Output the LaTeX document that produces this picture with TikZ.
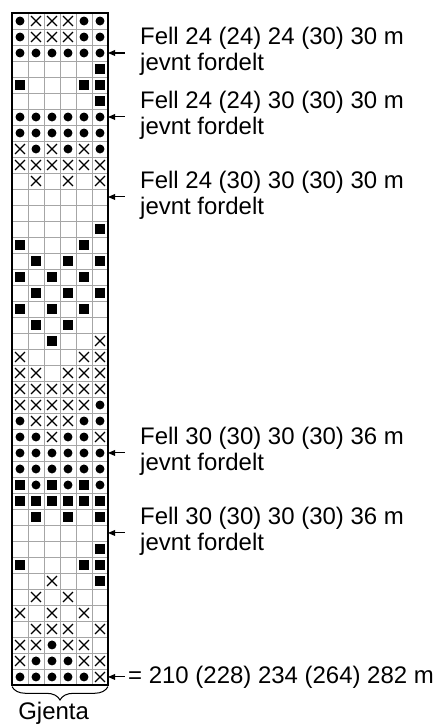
\documentclass[tikz,border=0pt]{standalone}
\usepackage{fontspec}
\setmainfont{Liberation Sans}
\usetikzlibrary{arrows.meta, positioning, decorations.pathreplacing}

% one macro per chart symbol: column, row
\newcommand{\kne}[2]{}
\newcommand{\kno}[2]{\fill (#1-0.5,0.5-#2) circle (0.28);}
\newcommand{\kns}[2]{\fill (#1-0.84,0.16-#2) rectangle (#1-0.16,0.84-#2);}
\newcommand{\knx}[2]{\draw[line width=1.1pt] (#1-0.81,0.19-#2) -- (#1-0.19,0.81-#2)
                       (#1-0.81,0.81-#2) -- (#1-0.19,0.19-#2);}

\begin{document}
\begin{tikzpicture}[
  x=0.5cm, y=0.5cm,
  every node/.style={font=\fontsize{21.3}{22.4}\selectfont},
  lbl/.style={anchor=west, align=left, inner sep=0pt},
  arr/.style={-{Triangle[length=0.22cm, width=0.18cm]}, line width=0.9pt}
]
\useasboundingbox (-0.75,0.8125) rectangle (26.5,-44.44);

% Grid
\draw[gray!70, line width=0.8pt, step=0.5cm] (0,0) grid (6,-42);

% Chart rows, top to bottom (o dot, x cross, s square, e empty)
\foreach \cells [count=\row] in {
  {o,x,x,x,o,o}, {o,x,x,x,o,o}, {o,o,o,o,o,o}, {e,e,e,e,e,s},
  {s,e,e,e,s,s}, {e,e,e,e,e,s}, {o,o,o,o,o,o}, {o,o,o,o,o,o},
  {x,o,x,o,x,o}, {x,x,x,x,x,x}, {e,x,e,x,e,x}, {e,e,e,e,e,e},
  {e,e,e,e,e,e}, {e,e,e,e,e,s}, {s,e,e,e,s,e}, {e,s,e,s,e,s},
  {s,e,s,e,s,e}, {e,s,e,s,e,s}, {s,e,s,e,s,e}, {e,s,e,s,e,e},
  {e,e,s,e,e,x}, {x,e,e,e,x,x}, {x,x,e,x,x,x}, {x,x,x,x,x,x},
  {x,x,x,x,x,o}, {o,x,x,x,o,o}, {o,o,x,o,o,x}, {o,o,o,o,o,o},
  {o,o,o,o,o,o}, {s,o,s,o,s,o}, {s,s,s,s,s,s}, {e,s,e,s,e,s},
  {e,e,e,e,e,e}, {e,e,e,e,e,s}, {s,e,e,e,s,s}, {e,e,x,e,e,s},
  {e,x,e,x,e,e}, {x,e,x,e,x,e}, {e,x,x,x,e,x}, {x,x,o,x,x,e},
  {x,o,o,o,x,x}, {o,o,o,o,o,x}}{
  \foreach \kind [count=\col] in \cells {\csname kn\kind\endcsname{\col}{\row}}
}

% Outer frame
\draw[line width=2.6pt] (0,0) rectangle (6,-42);

% Decrease notes
\coordinate (a1) at (6,-2.5);
\coordinate (a2) at (6,-6.5);
\coordinate (a3) at (6,-11.5);
\coordinate (a4) at (6,-27.5);
\coordinate (a5) at (6,-32.5);
\coordinate (a6) at (6,-41.5);
\node[lbl] (f1) at (8,-2.4) {Fell 24 (24) 24 (30) 30 m\\jevnt fordelt};
\node[lbl] (f2) at (8,-6.4) {Fell 24 (24) 30 (30) 30 m\\jevnt fordelt};
\node[lbl] (f3) at (8,-11.4) {Fell 24 (30) 30 (30) 30 m\\jevnt fordelt};
\node[lbl] (f4) at (8,-27.4) {Fell 30 (30) 30 (30) 36 m\\jevnt fordelt};
\node[lbl] (f5) at (8,-32.4) {Fell 30 (30) 30 (30) 36 m\\jevnt fordelt};
\node[lbl] (f6) at (7.25,-41.5) {= 210 (228) 234 (264) 282 m};
\foreach \n in {1,...,5}{
  \draw[arr, shorten <=0.47cm] (f\n.west |- a\n) -- (a\n);
}
\draw[arr, shorten <=0.1cm] (f6.west) -- (a6);

% Repeat brace
\draw[decorate, decoration={brace, mirror, amplitude=0.42cm}, line width=0.9pt]
  (0,-42.1) -- (6,-42.1);
\node (gj) at (2.6,-43.8) {Gjenta};

\end{tikzpicture}
\end{document}
